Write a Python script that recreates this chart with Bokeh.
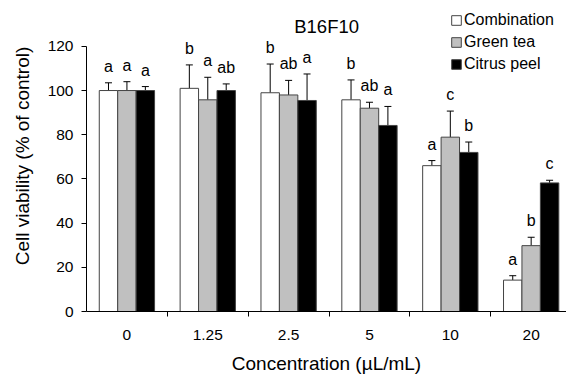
from bokeh.plotting import figure
from bokeh.models import (ColumnDataSource, Range1d, FixedTicker, LinearAxis, Whisker,
                          TeeHead, LabelSet, Label, Legend, LegendItem)
from bokeh.core.properties import value
from bokeh.transform import dodge
from bokeh.embed import file_html
from bokeh.resources import INLINE

# ---- data ----
concentrations = ["0", "1.25", "2.5", "5", "10", "20"]
combination = [100, 101, 99, 95.8, 66, 14.2]
combination_err = [3.5, 10.6, 13, 9, 2.3, 2.0]
combination_letters = ["a", "b", "b", "b", "a", "a"]
green_tea = [100, 95.8, 98, 92, 78.9, 29.8]
green_tea_err = [4, 10.2, 6.6, 2.7, 11.8, 3.8]
green_tea_letters = ["a", "a", "ab", "ab", "c", "b"]
citrus_peel = [100, 100, 95.5, 84.2, 72, 58.2]
citrus_peel_err = [1.8, 3, 12, 8.6, 4.7, 1.2]
citrus_peel_letters = ["a", "ab", "a", "a", "b", "c"]
series_names = ["Combination", "Green tea", "Citrus peel"]
y_ticks = [0, 20, 40, 60, 80, 100, 120]

FONT = "Liberation Sans"
xc = [i + 0.5 for i in range(len(concentrations))]

p = figure(width=566, height=376, output_backend="svg", toolbar_location=None,
           x_range=Range1d(0, 5.937), y_range=Range1d(0, 140.75),
           min_border_left=86, min_border_right=0, min_border_top=0, min_border_bottom=64,
           x_axis_type=None, y_axis_type=None)
p.outline_line_color = None
p.xgrid.visible = False
p.ygrid.visible = False
p.background_fill_color = "white"
p.border_fill_color = "white"

# axes
xaxis = LinearAxis(ticker=FixedTicker(ticks=xc, minor_ticks=[1, 2, 3, 4, 5]))
xaxis.major_label_overrides = {x: c for x, c in zip(xc, concentrations)}
xaxis.major_tick_out = 0
xaxis.major_tick_in = 0
xaxis.minor_tick_out = 5
xaxis.minor_tick_in = 0
xaxis.minor_tick_line_color = "black"
xaxis.major_label_standoff = 13
xaxis.major_label_text_font = FONT
xaxis.major_label_text_font_size = "15.5px"
xaxis.major_label_text_color = "black"
xaxis.axis_label = "Concentration (µL/mL)"
xaxis.axis_label_text_font = FONT
xaxis.axis_label_text_font_size = "19px"
xaxis.axis_label_text_font_style = "normal"
xaxis.axis_label_text_color = "black"
xaxis.axis_label_standoff = 10
xaxis.axis_line_color = "black"
p.add_layout(xaxis, "below")

yaxis = LinearAxis(ticker=FixedTicker(ticks=y_ticks, minor_ticks=[]), bounds=(0, 120))
yaxis.major_tick_out = 5
yaxis.major_tick_in = 0
yaxis.major_tick_line_color = "black"
yaxis.major_label_standoff = 8
yaxis.major_label_text_font = FONT
yaxis.major_label_text_font_size = "15.5px"
yaxis.major_label_text_color = "black"
yaxis.axis_label = "Cell viability (% of control)"
yaxis.axis_label_text_font = FONT
yaxis.axis_label_text_font_size = "19px"
yaxis.axis_label_text_font_style = "normal"
yaxis.axis_label_text_color = "black"
yaxis.axis_label_standoff = 12
yaxis.axis_line_color = "black"
p.add_layout(yaxis, "left")

bar_w = 0.228
offsets = [-bar_w, 0.0, bar_w]
fills = ["white", "#c0c0c0", "black"]
values = [combination, green_tea, citrus_peel]
errs = [combination_err, green_tea_err, citrus_peel_err]
letters = [combination_letters, green_tea_letters, citrus_peel_letters]

items = []
for name, off, fill, vals, err, lets in zip(series_names, offsets, fills, values, errs, letters):
    src = ColumnDataSource(dict(
        xc=xc, value=vals, upper=[v + e for v, e in zip(vals, err)], lab=lets))
    r = p.vbar(x=dodge("xc", off), top="value", bottom=0, width=bar_w, source=src,
               fill_color=fill, line_color="#444444", line_width=1)
    items.append(LegendItem(label=name, renderers=[r]))
    w = Whisker(base=dodge("xc", off), lower="value", upper="upper", source=src,
                line_color="black", line_width=1,
                upper_head=TeeHead(size=7, line_color="black", line_width=1),
                lower_head=None)
    p.add_layout(w)
    ls = LabelSet(x=dodge("xc", off), y="upper", text="lab", source=src, y_offset=11,
                  text_align="center", text_baseline="alphabetic",
                  text_font=value(FONT), text_font_size=value("16px"), text_color="black")
    p.add_layout(ls)

legend = Legend(items=items, location=(364, 237.8), orientation="vertical",
                border_line_color=None, background_fill_alpha=0, padding=0, margin=0,
                spacing=4, glyph_width=12, glyph_height=12, label_height=12,
                label_standoff=2, label_text_font=FONT, label_text_font_size="16px",
                label_text_color="black")
p.add_layout(legend)

title = Label(x=2.97, y=285, x_units="data", y_units="screen", text="B16F10",
              text_align="center", text_baseline="middle", text_font=FONT,
              text_font_size="18.5px", text_color="black")
p.add_layout(title)

open("out.html", "w").write(file_html(p, INLINE))
